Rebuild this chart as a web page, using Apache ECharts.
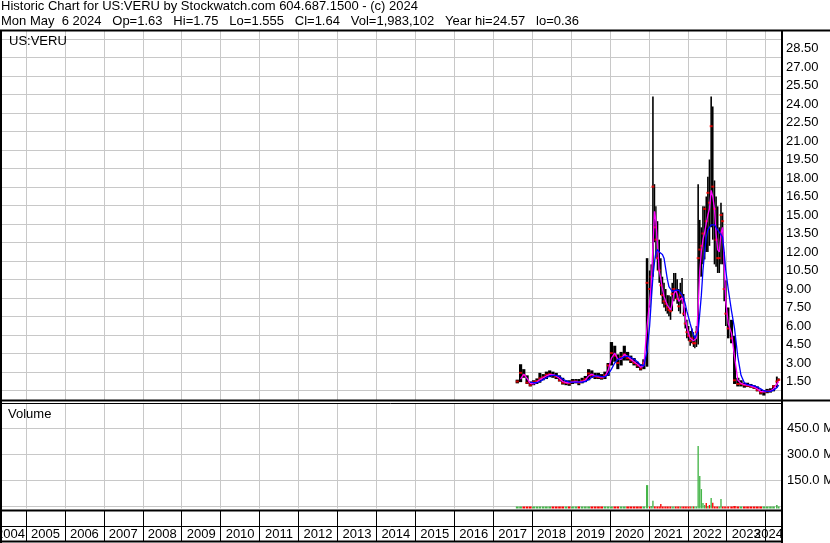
<!DOCTYPE html>
<html>
<head>
<meta charset="utf-8">
<script src="https://cdn.jsdelivr.net/npm/echarts@6/dist/echarts.min.js"></script>
<style>
html, body { margin: 0; padding: 0; background: #fff; }
#chart { width: 830px; height: 543px; }
</style>
</head>
<body>
<div id="chart"></div>
<script>
// sample dates (monthly, semi-monthly around the 2021/2022 spikes)
var dates = [
  '2017-08-15', '2017-09-15', '2017-10-15', '2017-11-15', '2017-12-15',
  '2018-01-15', '2018-02-15', '2018-03-15', '2018-04-15', '2018-05-15', '2018-06-15',
  '2018-07-15', '2018-08-15', '2018-09-15', '2018-10-15', '2018-11-15', '2018-12-15',
  '2019-01-15', '2019-02-15', '2019-03-15', '2019-04-15', '2019-05-15', '2019-06-15',
  '2019-07-15', '2019-08-15', '2019-09-15', '2019-10-15', '2019-11-15', '2019-12-15',
  '2020-01-15', '2020-02-15', '2020-03-15', '2020-04-15', '2020-05-15', '2020-06-15',
  '2020-07-15', '2020-08-15', '2020-09-15', '2020-10-15', '2020-11-15', '2020-12-15',
  '2021-01-08', '2021-01-23', '2021-02-08', '2021-02-23', '2021-03-08', '2021-03-23',
  '2021-04-08', '2021-04-23', '2021-05-08', '2021-05-23', '2021-06-08', '2021-06-23',
  '2021-07-08', '2021-07-23', '2021-08-08', '2021-08-23', '2021-09-08', '2021-09-23',
  '2021-10-08', '2021-10-23', '2021-11-08', '2021-11-23', '2021-12-08', '2021-12-23',
  '2022-01-08', '2022-01-23', '2022-02-08', '2022-02-23', '2022-03-08', '2022-03-23',
  '2022-04-08', '2022-04-23', '2022-05-08', '2022-05-23', '2022-06-08', '2022-06-23',
  '2022-07-08', '2022-07-23', '2022-08-08', '2022-08-23', '2022-09-08', '2022-09-23',
  '2022-10-08', '2022-10-23', '2022-11-08', '2022-11-23', '2022-12-08', '2022-12-23',
  '2023-01-15', '2023-02-15', '2023-03-15', '2023-04-15', '2023-05-15', '2023-06-15',
  '2023-07-15', '2023-08-15', '2023-09-15', '2023-10-15', '2023-11-15', '2023-12-15',
  '2024-01-15', '2024-02-15', '2024-03-15', '2024-04-15', '2024-05-03'
];

var highs = [
  1.65, 2.90, 2.50, 2.00, 1.50,
  1.60, 1.75, 2.20, 2.10, 2.30, 2.40, 2.30, 2.20, 2.00, 1.80, 1.60, 1.60,
  1.70, 1.70, 1.70, 1.80, 1.95, 2.50, 2.40, 2.20, 2.20, 2.10, 2.30, 3.00,
  4.70, 4.40, 3.70, 3.90, 4.40, 3.90, 3.60, 3.40, 3.10, 2.90, 3.30, 11.50,
  10.5, 11.0, 24.6, 17.5, 15.7, 14.5, 13.0, 11.5, 10.0, 9.5, 9.0, 8.5,
  8.5, 8.4, 9.5, 10.3, 10.3, 9.8, 9.0, 9.5, 9.9, 8.6, 7.5, 6.5,
  6.0, 5.6, 5.8, 5.5, 5.2, 6.0, 17.5, 14.6, 14.0, 15.7, 15.7, 16.5,
  18.1, 19.5, 24.6, 23.8, 17.8, 16.5, 15.7, 14.0, 16.0, 15.2, 12.0, 9.7,
  7.5, 6.5, 5.2, 1.8, 1.6, 1.4, 1.4, 1.3, 1.2, 1.1, 0.85, 0.8,
  0.9, 0.95, 1.2, 1.9, 1.75
];

var lows = [
  1.35, 1.45, 1.80, 1.30, 1.10,
  1.20, 1.30, 1.40, 1.60, 1.70, 1.85, 1.80, 1.70, 1.50, 1.25, 1.20, 1.15,
  1.30, 1.35, 1.20, 1.35, 1.45, 1.60, 1.80, 1.70, 1.70, 1.65, 1.70, 1.95,
  2.80, 3.10, 2.50, 2.80, 3.20, 3.20, 3.00, 2.80, 2.60, 2.40, 2.50, 2.70,
  7.5, 8.5, 10.0, 12.8, 11.5, 10.5, 9.5, 8.5, 7.8, 7.5, 7.2, 7.0,
  6.8, 6.5, 7.2, 8.0, 8.2, 7.8, 7.2, 7.0, 7.8, 6.8, 5.8, 5.0,
  4.8, 4.4, 4.6, 4.3, 4.2, 4.3, 4.5, 10.0, 10.0, 11.0, 11.4, 12.0,
  12.0, 12.5, 14.0, 13.0, 11.0, 10.8, 10.3, 10.3, 11.0, 11.0, 8.0, 6.0,
  5.0, 4.6, 1.3, 1.1, 1.1, 1.0, 1.05, 1.0, 0.9, 0.7, 0.45, 0.36,
  0.55, 0.6, 0.7, 1.0, 1.55
];

var closes = [
  1.50, 2.20, 2.00, 1.40, 1.20,
  1.45, 1.55, 1.75, 1.85, 2.05, 2.10, 2.00, 1.90, 1.60, 1.40, 1.40, 1.35,
  1.50, 1.50, 1.40, 1.55, 1.70, 2.15, 2.00, 1.90, 1.85, 1.80, 2.00, 2.80,
  3.80, 3.60, 3.00, 3.50, 3.70, 3.40, 3.20, 3.00, 2.80, 2.55, 3.00, 9.50,
  9.0, 10.0, 17.3, 14.0, 13.0, 11.5, 10.5, 9.3, 8.5, 8.0, 7.8, 7.5,
  7.3, 7.2, 8.6, 9.0, 8.8, 8.2, 7.6, 8.5, 8.2, 7.0, 6.2, 5.5,
  5.2, 4.8, 5.0, 4.6, 4.6, 5.5, 11.5, 12.2, 12.5, 13.5, 15.5, 14.5,
  16.8, 16.0, 22.2, 17.3, 15.5, 13.0, 11.5, 11.5, 15.0, 14.5, 9.0, 7.0,
  5.8, 5.0, 1.6, 1.3, 1.3, 1.2, 1.15, 1.1, 1.0, 0.8, 0.6, 0.7,
  0.7, 0.75, 1.1, 1.5, 1.64
];

// magenta (short) moving average
var maFast = [
  null, 1.70, 2.10, 1.75, 1.35,
  1.30, 1.45, 1.65, 1.80, 1.95, 2.05, 2.05, 1.95, 1.75, 1.50, 1.40, 1.40,
  1.45, 1.50, 1.45, 1.50, 1.60, 1.95, 2.10, 1.95, 1.90, 1.85, 1.90, 2.40,
  3.40, 3.80, 3.30, 3.30, 3.70, 3.55, 3.30, 3.10, 2.90, 2.65, 2.80, 6.00,
  8.0, 9.3, 12.5, 15.3, 14.5, 12.5, 10.5, 9.8, 9.0, 8.4, 8.0, 7.7,
  7.5, 7.3, 7.8, 8.6, 8.9, 8.6, 8.0, 8.0, 8.3, 7.7, 6.7, 5.9,
  5.4, 5.0, 4.9, 4.8, 4.7, 5.0, 7.5, 10.5, 12.0, 13.0, 13.6, 14.3,
  15.0, 15.5, 17.0, 16.5, 15.5, 13.5, 12.2, 12.0, 13.5, 14.0, 11.0, 8.0,
  6.2, 5.4, 3.5, 1.6, 1.35, 1.25, 1.2, 1.15, 1.05, 0.9, 0.7, 0.65,
  0.7, 0.72, 0.9, 1.3, 1.5
];

// blue (long) moving average
var maSlow = [
  null, null, null, null, 1.45,
  1.40, 1.40, 1.50, 1.65, 1.80, 1.95, 2.00, 2.00, 1.90, 1.70, 1.55, 1.45,
  1.45, 1.45, 1.45, 1.45, 1.50, 1.65, 1.85, 1.95, 1.95, 1.90, 1.90, 2.05,
  2.50, 3.00, 3.30, 3.40, 3.50, 3.55, 3.45, 3.30, 3.10, 2.85, 2.75, 4.00,
  6.0, 8.0, 10.0, 11.2, 12.0, 12.2, 12.0, 12.0, 11.8, 11.5, 11.4, 9.8,
  9.2, 9.0, 8.8, 8.8, 8.9, 9.0, 8.9, 8.7, 8.6, 8.3, 7.8, 7.2,
  6.7, 6.2, 5.7, 5.3, 5.0, 4.9, 5.6, 7.0, 8.5, 10.5, 12.0, 13.2,
  13.8, 14.0, 14.2, 14.3, 14.2, 14.0, 13.8, 13.6, 13.4, 13.2, 12.0, 10.5,
  9.0, 7.2, 5.8, 3.5, 2.0, 1.4, 1.25, 1.2, 1.15, 1.05, 0.9, 0.75,
  0.7, 0.7, 0.8, 1.0, 1.2
];

// volume, millions of shares
var volumes = [
  3, 8, 4, 3, 3,
  2, 2, 3, 2, 3, 3, 2, 2, 2, 3, 2, 2,
  2, 2, 2, 2, 2, 3, 2, 2, 2, 2, 2, 3,
  6, 4, 4, 3, 4, 3, 3, 2, 2, 2, 3, 135,
  10, 15, 45, 12, 8, 6, 10, 26, 5, 4, 4, 3,
  3, 3, 4, 5, 4, 3, 3, 3, 4, 3, 4, 3,
  3, 3, 3, 2, 2, 3, 360, 188, 112, 32, 20, 32,
  15, 20, 60, 33, 10, 8, 8, 6, 55, 10, 8, 6,
  5, 4, 14, 6, 3, 3, 2, 2, 2, 3, 3, 3,
  3, 2, 4, 20, 2
];

var headerLine1 = 'Historic Chart for US:VERU by Stockwatch.com 604.687.1500 - (c) 2024';
var headerLine2 = 'Mon May  6 2024   Op=1.63   Hi=1.75   Lo=1.555   Cl=1.64   Vol=1,983,102   Year hi=24.57   lo=0.36';
var symbolName = 'US:VERU';
var volumeName = 'Volume';

var FONT = "'Liberation Sans', Arial, sans-serif";
var GRID_GREY = '#c8c8c8';
var GREEN = '#45b549';
var RED = '#ff0000';

// horizontal layout: one year is ~38.93px, Jan 1 2005 sits at x=26
var PX_PER_YEAR = 38.93;
var PLOT_RIGHT = 781;
var YEAR_MIN = 2004;
var gridLeft = 26 - PX_PER_YEAR;
var gridWidth = PLOT_RIGHT - gridLeft;
var YEAR_MAX = YEAR_MIN + gridWidth / PX_PER_YEAR;

function toYear (s) {
  var d = new Date(s + 'T00:00:00Z')
  var y = d.getUTCFullYear()
  var start = Date.UTC(y, 0, 1)
  var end = Date.UTC(y + 1, 0, 1)
  return y + (d.getTime() - start) / (end - start)
}

var t = dates.map(toYear);
var gap = t.map(function (v, i) {
  var a = i > 0 ? v - t[i - 1] : Infinity
  var b = i < t.length - 1 ? t[i + 1] - v : Infinity
  return Math.min(a, b)
});

var hlData = t.map(function (v, i) { return [v, lows[i], highs[i], gap[i]] });
var closeData = t.map(function (v, i) { return [v, closes[i]] });
var fastData = t.map(function (v, i) { return [v, maFast[i] == null ? '-' : maFast[i]] });
var slowData = t.map(function (v, i) { return [v, maSlow[i] == null ? '-' : maSlow[i]] });
var volData = t.map(function (v, i) {
  var up = (i === 0 || closes[i] >= closes[i - 1]) ? 1 : 0
  return [v, volumes[i], gap[i], up]
});

var labelStyle = { color: '#000', fontFamily: FONT, fontSize: 13 };
var titleStyle = { fontFamily: FONT, fontSize: 13, fontWeight: 'normal', color: '#000' };

function hiddenX (gridIndex) {
  return { type: 'value', gridIndex: gridIndex, min: YEAR_MIN, max: YEAR_MAX, show: false }
}
function yearLines (gridIndex, color) {
  return {
    type: 'value', gridIndex: gridIndex, min: YEAR_MIN, max: YEAR_MAX, interval: 1,
    axisLine: { show: false }, axisTick: { show: false }, axisLabel: { show: false },
    splitLine: { show: true, lineStyle: { color: color, width: 1 } }
  }
}
function line (x1, y1, x2, y2, w) {
  return { type: 'line', silent: true, z: 100, shape: { x1: x1, y1: y1, x2: x2, y2: y2 }, style: { stroke: '#000', lineWidth: w } }
}

var chart = echarts.init(document.getElementById('chart'));

var option = {
  backgroundColor: '#fff',
  animation: false,
  title: [
    { text: headerLine1, left: 1, top: 0, padding: 0, textStyle: titleStyle },
    { text: headerLine2, left: 1, top: 15, padding: 0, textStyle: titleStyle },
    { text: symbolName, left: 9, top: 35, padding: 0, textStyle: titleStyle },
    { text: volumeName, left: 8, top: 408, padding: 0, textStyle: titleStyle }
  ],
  grid: [
    { left: gridLeft, width: gridWidth, top: 30, height: 370, outerBoundsMode: 'none' },   // price data
    { left: gridLeft, width: gridWidth, top: 39, height: 351.5, outerBoundsMode: 'none' }, // price grid lines
    { left: gridLeft, width: gridWidth, top: 403, height: 103.3, outerBoundsMode: 'none' }, // volume labels
    { left: gridLeft, width: gridWidth, top: 403, height: 105.5, outerBoundsMode: 'none' }, // volume data
    { left: gridLeft, width: gridWidth, top: 510, height: 31, outerBoundsMode: 'none' },   // year ticks
    { left: gridLeft, width: gridWidth, top: 520, height: 6, outerBoundsMode: 'none' }     // year labels
  ],
  xAxis: [
    yearLines(0, GRID_GREY),
    hiddenX(1),
    hiddenX(2),
    yearLines(3, GRID_GREY),
    yearLines(4, '#000'),
    {
      type: 'value', gridIndex: 5, min: YEAR_MIN, max: YEAR_MAX, interval: 0.5, position: 'bottom',
      axisLine: { show: false }, axisTick: { show: false }, splitLine: { show: false },
      axisLabel: {
        show: true, margin: 2, showMinLabel: true, showMaxLabel: true,
        color: '#000', fontFamily: FONT, fontSize: 13,
        formatter: function (v) {
          if (Math.abs(v - YEAR_MAX) < 1e-6) return '{r|' + Math.floor(v) + '}'
          if (Math.abs(v - Math.floor(v) - 0.5) > 1e-6) return ''
          var y = Math.floor(v)
          return y === YEAR_MIN ? '{l|' + y + '}' : String(y)
        },
        rich: {
          l: { color: '#000', fontFamily: FONT, fontSize: 13, padding: [0, 0, 0, 8] },
          r: { color: '#000', fontFamily: FONT, fontSize: 13, padding: [0, 25, 0, 0] }
        }
      }
    }
  ],
  yAxis: [
    {
      type: 'value', gridIndex: 0, min: 0, max: 30, interval: 1.5, position: 'right',
      axisLine: { show: false }, axisTick: { show: false }, splitLine: { show: false },
      axisLabel: Object.assign({
        margin: 5, align: 'left',
        formatter: function (v) { return (v > 0 && v < 30) ? v.toFixed(2) : '' }
      }, labelStyle)
    },
    {
      type: 'value', gridIndex: 1, min: 0, max: 28.5, interval: 1.5,
      axisLine: { show: false }, axisTick: { show: false }, axisLabel: { show: false },
      splitLine: { show: true, lineStyle: { color: GRID_GREY, width: 1 } }
    },
    {
      type: 'value', gridIndex: 2, min: 0, max: 103.3 / 26 * 150, interval: 150, position: 'right',
      axisLine: { show: false }, axisTick: { show: false },
      splitLine: { show: true, lineStyle: { color: GRID_GREY, width: 1 } },
      axisLabel: Object.assign({
        margin: 6, align: 'left',
        formatter: function (v) { return (v > 0 && v < 590) ? v.toFixed(1) + ' M' : '' }
      }, labelStyle)
    },
    { type: 'value', gridIndex: 3, min: 0, max: 105.5 / 26 * 150, show: false },
    { type: 'value', gridIndex: 4, min: 0, max: 1, show: false },
    { type: 'value', gridIndex: 5, min: 0, max: 1, show: false }
  ],
  series: [
    {
      name: 'range', type: 'custom', xAxisIndex: 0, yAxisIndex: 0, z: 2,
      encode: { x: 0, y: [1, 2] },
      renderItem: function (params, api) {
        var x = api.value(0)
        var top = api.coord([x, api.value(2)])
        var bot = api.coord([x, api.value(1)])
        var w = Math.max(1, api.size([api.value(3), 0])[0])
        return {
          type: 'rect',
          shape: { x: top[0] - w / 2, y: top[1], width: w, height: Math.max(1, bot[1] - top[1]) },
          style: { fill: '#000' }
        }
      },
      data: hlData
    },
    {
      name: 'close', type: 'scatter', xAxisIndex: 0, yAxisIndex: 0, z: 3,
      symbol: 'rect', symbolSize: [3, 2],
      itemStyle: { color: RED },
      data: closeData
    },
    {
      name: 'ma fast', type: 'line', xAxisIndex: 0, yAxisIndex: 0, z: 4,
      symbol: 'none', showSymbol: false, connectNulls: false,
      lineStyle: { color: '#ff00ff', width: 1.3 },
      data: fastData
    },
    {
      name: 'ma slow', type: 'line', xAxisIndex: 0, yAxisIndex: 0, z: 5,
      symbol: 'none', showSymbol: false, connectNulls: false,
      lineStyle: { color: '#0000ff', width: 1.3 },
      data: slowData
    },
    {
      name: 'volume', type: 'custom', xAxisIndex: 3, yAxisIndex: 3, z: 2,
      encode: { x: 0, y: 1 },
      renderItem: function (params, api) {
        var x = api.value(0)
        var base = api.coord([x, 0])
        var top = api.coord([x, api.value(1)])
        var w = Math.max(1, api.size([api.value(2), 0])[0] * 0.85)
        var h = Math.max(2, base[1] - top[1])
        return {
          type: 'rect',
          shape: { x: base[0] - w / 2, y: base[1] - h, width: w, height: h },
          style: { fill: api.value(3) ? GREEN : RED }
        }
      },
      data: volData
    }
  ],
  graphic: [
    line(0, 30.5, 830, 30.5, 2),
    line(0, 400.5, 830, 400.5, 2),
    line(0, 403.5, PLOT_RIGHT, 403.5, 1),
    line(0, 510.5, PLOT_RIGHT, 510.5, 2),
    line(0, 526.5, PLOT_RIGHT, 526.5, 1),
    line(0, 541.5, PLOT_RIGHT + 2, 541.5, 2),
    line(1, 30, 1, 543, 2),
    line(PLOT_RIGHT + 1, 30, PLOT_RIGHT + 1, 543, 2)
  ]
};

chart.setOption(option);
</script>
</body>
</html>
